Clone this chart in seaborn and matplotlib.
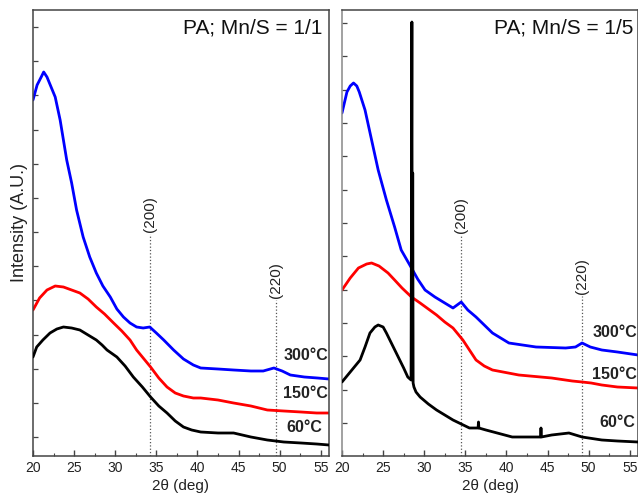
import numpy as np
import pandas as pd
import matplotlib
matplotlib.use("Agg")
import matplotlib.pyplot as plt
import seaborn as sns

sns.set_style("ticks")
plt.rcParams['font.family'] = ['Liberation Sans', 'DejaVu Sans']

# ---------------- data (intensity in arbitrary units) -------------
# Left panel: PA; Mn/S = 1/1
L_blue_x = [20.0, 20.5, 21.0, 21.3, 21.7, 22.1, 22.7, 23.3, 23.7, 24.1, 24.7, 25.3, 26.1, 26.9,
            27.7, 28.5, 29.4, 30.2, 31.0, 31.8, 32.6, 33.4, 34.2, 35.0, 35.9, 37.1, 38.3, 39.5,
            40.4, 42.5, 44.4, 46.5, 48.0, 49.3, 50.3, 51.3, 53.0, 54.6, 56.0]
L_blue_y = [356, 371, 379, 384, 379, 371, 359, 336, 316, 296, 273, 246, 219, 199,
            183, 170, 159, 147, 139, 133, 129, 128, 129, 123, 116, 106, 97, 91,
            88, 87, 86, 85, 85, 88, 85, 81, 79, 78, 77]
L_red_x = [20.0, 20.8, 21.7, 22.7, 23.7, 24.7, 25.7, 26.7, 27.7, 28.7, 29.8, 30.8, 31.8, 32.6,
           33.4, 34.3, 35.3, 36.3, 37.3, 38.3, 39.5, 40.4, 42.5, 44.4, 46.5, 48.5, 50.5, 52.6,
           54.5, 56.0]
L_red_y = [146, 158, 166, 170, 169, 166, 163, 157, 149, 142, 133, 125, 116, 106,
           98, 89, 78, 69, 63, 60, 58, 58, 56, 53, 50, 46, 45, 44,
           43, 43]
L_black_x = [20.0, 20.45, 21.2, 22.07, 22.9, 23.7, 24.7, 25.7, 26.7, 27.7, 28.4, 29.0, 30.2, 31.2,
             32.2, 33.3, 34.3, 35.3, 36.3, 37.3, 38.3, 39.3, 40.4, 42.5, 44.4, 46.5, 48.5, 50.5,
             52.6, 54.5, 56.0]
L_black_y = [99, 109, 116, 123, 127, 129, 128, 126, 121, 116, 111, 106, 99, 90,
             79, 69, 59, 50, 43, 35, 29, 26, 24, 23, 23, 19, 16, 14,
             13, 12, 11]

# Right panel: PA; Mn/S = 1/5
R_blue_x = [20.0, 20.6, 21.0, 21.4, 21.8, 22.1, 22.8, 23.6, 24.4, 25.4, 26.4, 27.2, 28.45, 29.2,
            30.1, 31.3, 32.5, 33.5, 34.5, 35.3, 36.3, 37.3, 38.3, 40.3, 43.6, 47.2, 48.4, 49.2,
            50.2, 51.6, 53.5, 56.0]
R_blue_y = [343, 364, 370, 373, 370, 364, 346, 316, 286, 256, 229, 206, 188, 177,
            166, 159, 153, 148, 154, 146, 139, 131, 123, 113, 109, 108, 109, 113,
            109, 106, 104, 101]
R_red_x = [20.0, 21.0, 22.0, 23.0, 23.6, 24.5, 25.6, 26.4, 27.3, 28.45, 29.5, 30.5, 31.5, 32.5,
           33.5, 34.7, 35.5, 36.3, 37.3, 38.3, 41.5, 45.5, 48.0, 49.2, 50.3, 51.6, 53.5, 56.0]
R_red_y = [166, 178, 188, 192, 193, 190, 183, 176, 168, 159, 153, 147, 141, 134,
           128, 116, 106, 96, 90, 86, 81, 78, 75, 74, 73, 71, 69, 68]
R_black_x = [20.0, 21.0, 22.2, 22.8, 23.4, 24.0, 24.4, 25.0, 25.4, 26.0, 26.6, 27.5, 28.0, 28.4,
             28.5, 28.55, 28.6, 28.65, 28.75, 29.0, 29.5, 30.5, 31.5, 33.5, 35.5, 36.55, 36.6,
             36.65, 37.5, 40.7, 44.15, 44.2, 44.25, 45.5, 47.6, 49.2, 51.6, 53.5, 56.0]
R_black_y = [74, 84, 96, 109, 123, 129, 131, 129, 123, 113, 103, 88, 79, 76,
             434, 76, 283, 73, 69, 64, 59, 52, 46, 36, 28, 28, 34,
             28, 26, 19, 19, 28, 19, 21, 23, 19, 16, 15, 14]

temps = ["300°C", "150°C", "60°C"]
colors = ["#0000ff", "#ff0000", "#000000"]
titles = ["PA; Mn/S = 1/1", "PA; Mn/S = 1/5"]
peak_labels = ["(200)", "(220)"]
L_peak_x = [34.2, 49.55]
R_peak_x = [34.5, 49.2]
x_ticks = [20, 25, 30, 35, 40, 45, 50, 55]

# --------------------------------------------------------------------------------------
W, H = 638, 500
fig = plt.figure(figsize=(W / 100, H / 100), dpi=100)
axL = fig.add_axes([33 / W, 44 / H, 296 / W, 446 / H])
axR = fig.add_axes([342 / W, 44 / H, 296 / W, 446 / H])

panels = [
    (axL, [(L_blue_x, L_blue_y), (L_red_x, L_red_y), (L_black_x, L_black_y)], L_peak_x,
     [224, 158], [(0.997, 0.226), (0.997, 0.141), (0.976, 0.065)], (0.976, 0.96),
     np.linspace(19, 429, 13)),
    (axR, [(R_blue_x, R_blue_y), (R_red_x, R_red_y), (R_black_x, R_black_y)], R_peak_x,
     [223, 162], [(0.997, 0.276), (0.997, 0.182), (0.99, 0.074)], (0.986, 0.96),
     np.linspace(33, 433, 13)),
]

for i, (ax, series, pk, pk_y, tpos, titpos, yt) in enumerate(panels):
    for (xs, ys), c in zip(series, colors):
        df = pd.DataFrame({"theta": xs, "I": ys})
        sns.lineplot(data=df, x="theta", y="I", ax=ax, color=c, lw=2.0,
                     estimator=None, sort=False, zorder=3 if c == "#000000" else 2)
    for px, py, lab in zip(pk, pk_y, peak_labels):
        ax.plot([px, px], [0, py - 2], ls=":", color="#555555", lw=0.9, zorder=1)
        ax.text(px, py, lab, rotation=90, ha="center", va="bottom", fontsize=11, color="#222222")
    for (tx, ty), t in zip(tpos, temps):
        ax.text(tx, ty, t, transform=ax.transAxes, ha="right", va="center",
                fontsize=11.5, fontweight="bold", color="#222222")
    ax.text(titpos[0], titpos[1], titles[i], transform=ax.transAxes, ha="right", va="center",
            fontsize=15, color="#111111")
    ax.set_xlim(20, 56)
    ax.set_ylim(0, 446)
    ax.set_xticks(x_ticks)
    ax.set_xticks(np.arange(22.5, 56, 5), minor=True)
    ax.set_yticks(yt)
    ax.set_yticklabels([])
    ax.tick_params(axis="both", which="both", direction="in", top=False, right=False,
                   colors="#444444", labelcolor="#222222", labelsize=10)
    ax.tick_params(axis="x", which="major", length=4, width=1)
    ax.tick_params(axis="x", which="minor", length=2.5, width=0.8)
    ax.tick_params(axis="y", which="major", length=3.5, width=0.9)
    ax.set_ylabel("")
    ax.set_xlabel("2θ (deg)", fontsize=11, labelpad=3, color="#222222")
    for s in ax.spines.values():
        s.set_color("#444444")
        s.set_linewidth(1.1)

axR.spines["left"].set_color("#888888")

fig.text(20 / W, 1 - 222 / H, "Intensity (A.U.)", rotation=90, ha="center", va="center",
         fontsize=13, color="#222222")

fig.savefig("out.png", dpi=100)
